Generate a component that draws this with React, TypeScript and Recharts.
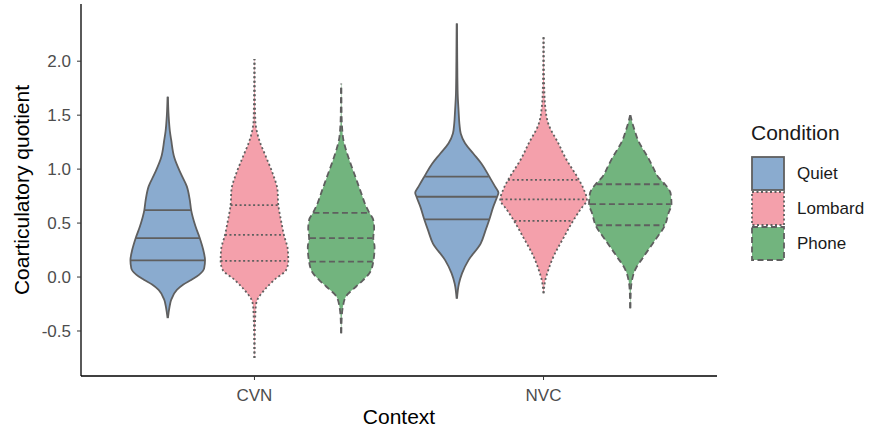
import { ComposedChart, Area, XAxis, YAxis, ReferenceLine, Legend } from 'recharts'

const contexts = ['CVN', 'NVC']
const conditions = ['Quiet', 'Lombard', 'Phone']
const yTicks = [-0.5, 0, 0.5, 1, 1.5, 2]

// violin outlines: [quotient, relative half-width]
const quietCVN = [
    [1.67, 0.004], [1.5, 0.02], [1.35, 0.05], [1.27, 0.08], [1.11, 0.15], [0.96, 0.3], [0.84, 0.44],
    [0.71, 0.51], [0.62, 0.54], [0.47, 0.64], [0.36, 0.74], [0.25, 0.82], [0.155, 0.86], [0.08, 0.84],
    [0.02, 0.72], [-0.025, 0.55], [-0.07, 0.36], [-0.12, 0.21], [-0.21, 0.08], [-0.28, 0.04], [-0.38, 0.004],
]
const lombardCVN = [
    [2.02, 0.004], [1.7, 0.01], [1.45, 0.02], [1.38, 0.04], [1.27, 0.11], [1.11, 0.27], [0.96, 0.42],
    [0.81, 0.53], [0.667, 0.55], [0.53, 0.61], [0.39, 0.68], [0.25, 0.77], [0.15, 0.78], [0.065, 0.73],
    [-0.025, 0.46], [-0.12, 0.23], [-0.2, 0.08], [-0.275, 0.03], [-0.5, 0.01], [-0.75, 0.004],
]
const phoneCVN = [
    [1.79, 0.004], [1.5, 0.01], [1.3, 0.04], [1.18, 0.11], [1.07, 0.2], [0.96, 0.3], [0.78, 0.46],
    [0.65, 0.58], [0.595, 0.65], [0.53, 0.74], [0.45, 0.76], [0.36, 0.74], [0.28, 0.77], [0.142, 0.74],
    [0.034, 0.65], [-0.03, 0.5], [-0.09, 0.34], [-0.18, 0.11], [-0.275, 0.04], [-0.4, 0.01], [-0.52, 0.004],
]
const quietNVC = [
    [2.35, 0.004], [2.0, 0.01], [1.7, 0.02], [1.546, 0.04], [1.42, 0.06], [1.33, 0.09], [1.24, 0.19],
    [1.145, 0.38], [1.05, 0.57], [0.93, 0.75], [0.84, 0.88], [0.78, 0.96], [0.744, 0.93], [0.65, 0.84],
    [0.534, 0.75], [0.43, 0.66], [0.31, 0.55], [0.157, 0.27], [0.034, 0.12], [-0.06, 0.05], [-0.2, 0.004],
]
const lombardNVC = [
    [2.225, 0.004], [1.9, 0.01], [1.7, 0.02], [1.577, 0.04], [1.42, 0.11], [1.24, 0.34], [1.08, 0.54],
    [0.99, 0.68], [0.9, 0.82], [0.79, 0.95], [0.72, 1.0], [0.62, 0.84], [0.52, 0.68], [0.37, 0.47],
    [0.19, 0.23], [0.065, 0.11], [-0.03, 0.04], [-0.15, 0.004],
]
const phoneNVC = [
    [1.5, 0.004], [1.44, 0.04], [1.36, 0.1], [1.25, 0.2], [1.18, 0.3], [1.1, 0.42], [1.02, 0.52],
    [0.93, 0.64], [0.86, 0.8], [0.775, 0.93], [0.676, 0.95], [0.59, 0.88], [0.48, 0.8], [0.34, 0.57],
    [0.19, 0.31], [0.065, 0.11], [-0.03, 0.04], [-0.15, 0.01], [-0.29, 0.004],
]

// quartile lines: [quotient, relative half-width]
const quietCVNQ = [[0.62, 0.54], [0.36, 0.74], [0.155, 0.86]]
const lombardCVNQ = [[0.667, 0.55], [0.39, 0.68], [0.15, 0.78]]
const phoneCVNQ = [[0.595, 0.64], [0.36, 0.72], [0.142, 0.72]]
const quietNVCQ = [[0.93, 0.73], [0.744, 0.92], [0.534, 0.74]]
const lombardNVCQ = [[0.9, 0.82], [0.72, 0.98], [0.52, 0.67]]
const phoneNVCQ = [[0.86, 0.78], [0.676, 0.93], [0.48, 0.78]]

const violins = [
    { context: 0, condition: 0, density: quietCVN, quartiles: quietCVNQ },
    { context: 0, condition: 1, density: lombardCVN, quartiles: lombardCVNQ },
    { context: 0, condition: 2, density: phoneCVN, quartiles: phoneCVNQ },
    { context: 1, condition: 0, density: quietNVC, quartiles: quietNVCQ },
    { context: 1, condition: 1, density: lombardNVC, quartiles: lombardNVCQ },
    { context: 1, condition: 2, density: phoneNVC, quartiles: phoneNVCQ },
]

const fills = ['#8aabcf', '#f4a0ab', '#72b47e']
const dashes = [undefined, '2 2.5', '6 3.5']
const outline = '#5f5f5f'
const DODGE = 0.3
const HALF = 0.15
const font = '"Liberation Sans", Arial, sans-serif'

function LegendBox() {
    return (
        <div style={{ fontFamily: font, color: '#1a1a1a' }}>
            <div style={{ fontSize: 21, height: 38, lineHeight: '30px' }}>Condition</div>
            {conditions.map((c, i) => (
                <div key={c} style={{ display: 'flex', alignItems: 'center', height: 35 }}>
                    <svg width={35} height={35}>
                        <rect x={1} y={1} width={32} height={33} fill={fills[i]} stroke={outline}
                            strokeWidth={1.8} strokeDasharray={dashes[i]} />
                    </svg>
                    <span style={{ fontSize: 17, marginLeft: 11 }}>{c}</span>
                </div>
            ))}
        </div>
    )
}

export default function App() {
    return (
        <div style={{ position: 'absolute', left: 0, top: 0, width: 870, height: 431, background: '#fff' }}>
            <ComposedChart width={870} height={431} layout="vertical"
                margin={{ top: 4, right: 153, bottom: 0, left: 0 }}>
                <XAxis type="number" domain={[0.4, 2.6]} ticks={[1, 2]} allowDataOverflow height={55}
                    tickFormatter={(v: number) => contexts[v - 1]}
                    axisLine={{ stroke: '#000', strokeWidth: 1.3 }} tickLine={{ stroke: '#333' }}
                    tickSize={4} tickMargin={9}
                    tick={{ fill: '#4d4d4d', fontSize: 17, fontFamily: font }}
                    label={{ value: 'Context', position: 'insideBottom', offset: 7, fill: '#000', fontSize: 21, fontFamily: font }} />
                <YAxis type="number" dataKey="y" domain={[-0.917, 2.53]} ticks={yTicks} allowDataOverflow width={81}
                    reversed
                    tickFormatter={(v: number) => v.toFixed(1)}
                    axisLine={{ stroke: '#000', strokeWidth: 1.3 }} tickLine={{ stroke: '#333' }}
                    tickSize={4} tickMargin={6}
                    tick={{ fill: '#4d4d4d', fontSize: 17, fontFamily: font }}
                    label={{ value: 'Coarticulatory quotient', angle: -90, position: 'insideLeft', offset: 22,
                        style: { textAnchor: 'middle' }, fill: '#000', fontSize: 21, fontFamily: font }} />
                {violins.map((v) => {
                    const c = v.context + 1 + (v.condition - 1) * DODGE
                    const data = [...v.density]
                        .sort((a, b) => a[0] - b[0])
                        .map(([y, w]) => ({ y, x: [c - w * HALF, c + w * HALF] }))
                    return (
                        <Area key={`a${v.context}${v.condition}`} data={data} dataKey="x" type="monotone"
                            fill={fills[v.condition]} fillOpacity={1} stroke={outline} strokeWidth={1.8}
                            strokeDasharray={dashes[v.condition]} dot={false} activeDot={false}
                            legendType="none" isAnimationActive={false} />
                    )
                })}
                {violins.map((v) => {
                    const c = v.context + 1 + (v.condition - 1) * DODGE
                    return v.quartiles.map(([q, w], k) => (
                        <ReferenceLine key={`q${v.context}${v.condition}${k}`}
                            segment={[{ x: c - w * HALF, y: q }, { x: c + w * HALF, y: q }]}
                            stroke={outline} strokeWidth={1.8} strokeDasharray={dashes[v.condition]}
                            ifOverflow="visible" />
                    ))
                })}
                <Legend layout="horizontal" verticalAlign="middle" align="center"
                    wrapperStyle={{ left: 751, top: 118, width: 119 }} content={() => <LegendBox />} />
            </ComposedChart>
        </div>
    )
}
